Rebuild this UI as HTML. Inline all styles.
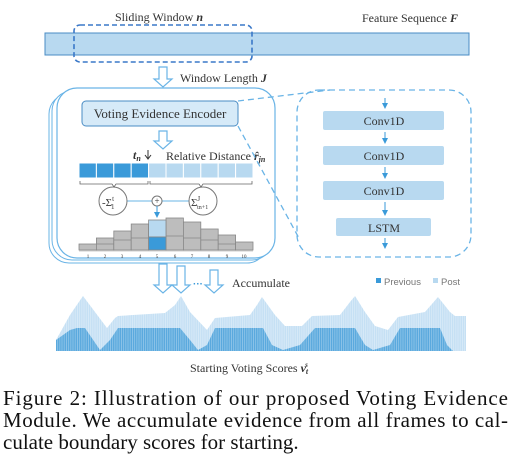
<!DOCTYPE html>
<html><head><meta charset="utf-8"><style>
html,body{margin:0;padding:0;background:#fff;width:514px;height:471px;overflow:hidden}
svg{display:block}
.s{font-family:"Liberation Serif",serif;fill:#333}
</style></head><body>
<svg width="514" height="471" viewBox="0 0 514 471" xmlns="http://www.w3.org/2000/svg">
<defs>
<pattern id="st" width="2.2" height="10" patternUnits="userSpaceOnUse"><rect x="0" y="0" width="0.8" height="10" fill="#fff" opacity="0.35"/></pattern>
<marker id="ah" markerWidth="6" markerHeight="6" refX="3" refY="3" orient="auto"><path d="M0,0 L6,3 L0,6 Z" fill="#3a9ad9"/></marker>
</defs>
<text x="115" y="21" class="s" font-size="12">Sliding Window <tspan font-weight="bold" font-style="italic">n</tspan></text>
<text x="362" y="22" class="s" font-size="12">Feature Sequence <tspan font-weight="bold" font-style="italic">F</tspan></text>
<rect x="45" y="33" width="424" height="22" fill="#b8d9f0" stroke="#4a8cc4" stroke-width="1"/>
<rect x="74" y="25" width="178" height="37" rx="6" fill="none" stroke="#3a78c8" stroke-width="1.6" stroke-dasharray="5,3"/>
<path d="M159,67 h8 v12 h5 l-9,8 l-9,-8 h5 z" fill="#fff" stroke="#6ab4e6" stroke-width="1.2"/>
<text x="180" y="82" class="s" font-size="12">Window Length <tspan font-weight="bold" font-style="italic">J</tspan></text>
<rect x="49" y="94" width="218" height="169" rx="20" fill="#fff" stroke="#6ab4e6" stroke-width="1"/>
<rect x="52" y="91" width="220" height="169" rx="20" fill="#fff" stroke="#6ab4e6" stroke-width="1"/>
<rect x="57" y="88" width="218" height="170" rx="20" fill="#fff" stroke="#6ab4e6" stroke-width="1.2"/>
<rect x="82" y="101" width="156" height="25" rx="4" fill="#d6eaf8" stroke="#4a8cc4" stroke-width="1"/>
<text x="160" y="118" class="s" font-size="13" text-anchor="middle">Voting Evidence Encoder</text>
<path d="M159,131 h8 v10 h5 l-9,8 l-9,-8 h5 z" fill="#fff" stroke="#6ab4e6" stroke-width="1.2"/>
<text x="133" y="159" class="s" font-size="12" font-weight="bold" font-style="italic">t<tspan font-size="8" dy="2">n</tspan></text>
<path d="M148,150 v8 M145,155 l3,4 l3,-4" stroke="#333" stroke-width="1" fill="none"/>
<text x="166" y="160" class="s" font-size="12">Relative Distance <tspan font-weight="bold" font-style="italic">r̂</tspan><tspan font-size="8" font-weight="bold" font-style="italic" dy="2">jn</tspan></text>
<g stroke="#fff" stroke-width="1">
<rect x="79" y="163" width="17.4" height="15" fill="#3a9ad9"/>
<rect x="96.4" y="163" width="17.4" height="15" fill="#3a9ad9"/>
<rect x="113.8" y="163" width="17.4" height="15" fill="#3a9ad9"/>
<rect x="131.2" y="163" width="17.4" height="15" fill="#3a9ad9"/>
<rect x="148.6" y="163" width="17.4" height="15" fill="#b8d9f0"/>
<rect x="166" y="163" width="17.4" height="15" fill="#b8d9f0"/>
<rect x="183.4" y="163" width="17.4" height="15" fill="#b8d9f0"/>
<rect x="200.8" y="163" width="17.4" height="15" fill="#b8d9f0"/>
<rect x="218.2" y="163" width="17.4" height="15" fill="#b8d9f0"/>
<rect x="235.6" y="163" width="17.4" height="15" fill="#b8d9f0"/>
</g>
<path d="M80,181 v3 h32 l2,3 l2,-3 h32 v-3 M150,181 v3 h49 l2,3 l2,-3 h49 v-3" fill="none" stroke="#666" stroke-width="0.8"/>
<line x1="127" y1="201" x2="152" y2="201" stroke="#6ab4e6"/>
<line x1="162" y1="201" x2="189" y2="201" stroke="#6ab4e6"/>
<circle cx="113" cy="201" r="14" fill="#fff" stroke="#777"/>
<circle cx="203" cy="201" r="14" fill="#fff" stroke="#777"/>
<circle cx="157" cy="201" r="5" fill="#fff" stroke="#777"/>
<text x="157" y="204" font-size="9" text-anchor="middle" class="s">+</text>
<text x="102" y="206" class="s" font-size="11">-Σ<tspan font-size="7" dy="-5">t</tspan><tspan font-size="7" dx="-3" dy="8">1</tspan></text>
<text x="191" y="206" class="s" font-size="11">Σ<tspan font-size="7" dy="-5">J</tspan><tspan font-size="6" dx="-3" dy="8">tn+1</tspan></text>
<line x1="157" y1="206" x2="157" y2="215" stroke="#3a9ad9" marker-end="url(#ah)"/>
<g fill="#bdbdbd" stroke="#888" stroke-width="0.8">
<rect x="79" y="244" width="17.4" height="6"/>
<rect x="96.4" y="238" width="17.4" height="12"/>
<rect x="113.8" y="231" width="17.4" height="19"/>
<rect x="131.2" y="224" width="17.4" height="26"/>
<rect x="166" y="218" width="17.4" height="32"/>
<rect x="183.4" y="222" width="17.4" height="28"/>
<rect x="200.8" y="229" width="17.4" height="21"/>
<rect x="218.2" y="235" width="17.4" height="15"/>
<rect x="235.6" y="242" width="17.4" height="8"/>
<path d="M96.4,244 h17.4 M113.8,240 h17.4 M131.2,238 h17.4 M166,236 h17.4 M183.4,238 h17.4 M200.8,240 h17.4 M218.2,244 h17.4" fill="none"/>
</g>
<rect x="148.6" y="220" width="17.4" height="17" fill="#b8d9f0" stroke="#888" stroke-width="0.8"/>
<rect x="148.6" y="237" width="17.4" height="13" fill="#3a9ad9" stroke="#888" stroke-width="0.8"/>
<line x1="79" y1="251" x2="253" y2="251" stroke="#ccc"/>
<g class="s" font-size="5" text-anchor="middle">
<text x="88" y="258">1</text><text x="105" y="258">2</text><text x="122" y="258">3</text><text x="140" y="258">4</text><text x="157" y="258">5</text><text x="175" y="258">6</text><text x="192" y="258">7</text><text x="209" y="258">8</text><text x="227" y="258">9</text><text x="244" y="258">10</text>
</g>
<path d="M238,101 L330,90 M238,126 L300,240" stroke="#6ab4e6" stroke-width="1.3" stroke-dasharray="6,4" fill="none"/>
<rect x="297" y="90" width="174" height="167" rx="22" fill="none" stroke="#6ab4e6" stroke-width="1.3" stroke-dasharray="6,4"/>
<g fill="#b8d9f0">
<rect x="323" y="111" width="121" height="19" rx="2"/>
<rect x="323" y="146" width="121" height="19" rx="2"/>
<rect x="323" y="181" width="121" height="19" rx="2"/>
<rect x="336" y="218" width="95" height="18" rx="2"/>
</g>
<g class="s" font-size="12" text-anchor="middle">
<text x="384" y="125">Conv1D</text><text x="384" y="160">Conv1D</text><text x="384" y="195">Conv1D</text><text x="384" y="232">LSTM</text>
</g>
<g stroke="#3a9ad9" stroke-width="1">
<line x1="385" y1="98" x2="385" y2="106" marker-end="url(#ah)"/>
<line x1="385" y1="132" x2="385" y2="141" marker-end="url(#ah)"/>
<line x1="385" y1="167" x2="385" y2="176" marker-end="url(#ah)"/>
<line x1="385" y1="202" x2="385" y2="213" marker-end="url(#ah)"/>
<line x1="385" y1="238" x2="385" y2="246" marker-end="url(#ah)"/>
</g>
<g fill="#fff" stroke="#6ab4e6" stroke-width="1.2">
<path d="M159,264 h8 v21 h5 l-9,8 l-9,-8 h5 z"/>
<path d="M177,266 h8 v19 h5 l-9,8 l-9,-8 h5 z"/>
<path d="M210,270 h8 v15 h5 l-9,8 l-9,-8 h5 z"/>
</g>
<text x="198" y="287" font-size="10" fill="#3a9ad9" text-anchor="middle" font-family="Liberation Sans,sans-serif" font-weight="bold">···</text>
<text x="232" y="287" class="s" font-size="12">Accumulate</text>
<rect x="376" y="278" width="5" height="5" fill="#3a9ad9"/>
<text x="384" y="285" font-family="Liberation Sans,sans-serif" font-size="9.5" fill="#777">Previous</text>
<rect x="433" y="278" width="5" height="5" fill="#b8d9f0"/>
<text x="441" y="285" font-family="Liberation Sans,sans-serif" font-size="9.5" fill="#777">Post</text>
<path d="M56,351 L56,340 L70,315 L83,296 L95,312 L107,328 L115,318 L118,316 L165,313 L175,305 L181,296 L190,312 L207,330 L215,318 L250,315 L257,305 L262,297 L275,315 L285,326 L302,326 L312,316 L340,315 L350,302 L355,296 L365,312 L375,326 L388,330 L398,317 L425,312 L438,297 L450,312 L455,316 L466,316 L466,351 Z" fill="#c5e0f4"/>
<path d="M56,351 L56,340 L70,330 L77,328 L85,328 L100,350 L110,340 L118,328 L180,328 L190,340 L198,350 L207,345 L215,328 L263,328 L272,345 L283,350 L300,345 L315,328 L355,328 L365,345 L373,350 L390,345 L400,328 L440,328 L447,345 L453,351 Z" fill="#5aa9de"/>
<rect x="56" y="295" width="410" height="57" fill="url(#st)"/>
<text x="190" y="372" class="s" font-size="12">Starting Voting Scores <tspan font-weight="bold" font-style="italic">v</tspan><tspan font-size="8" font-weight="bold" font-style="italic" dy="2">t</tspan><tspan font-size="7" font-weight="bold" font-style="italic" dx="-3" dy="-7">s</tspan></text>
<g font-family="Liberation Serif,serif" font-size="21" fill="#111">
<text x="3" y="405" textLength="505" lengthAdjust="spacing">Figure 2:  Illustration of our proposed Voting Evidence</text>
<text x="3" y="427" textLength="505" lengthAdjust="spacing">Module.  We accumulate evidence from all frames to cal-</text>
<text x="3" y="449">culate boundary scores for starting.</text>
</g>
</svg>
</body></html>
